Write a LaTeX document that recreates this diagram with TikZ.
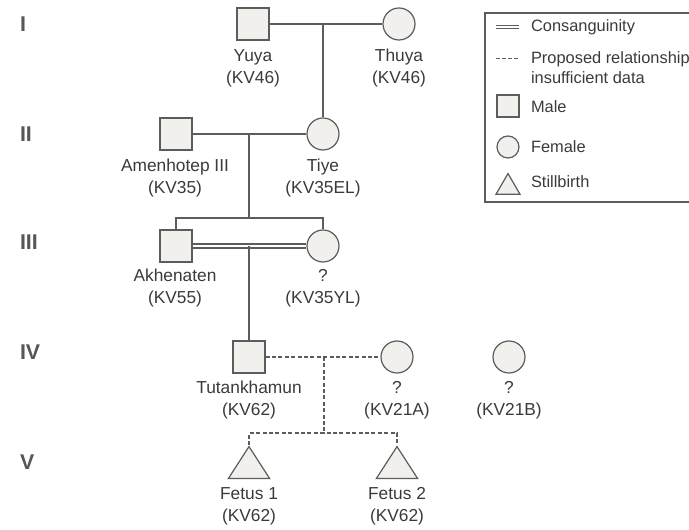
\documentclass[tikz,border=0pt]{standalone}
\usepackage{fontspec}
\setmainfont{Liberation Sans}
\usepackage{xcolor, tikz}
\usetikzlibrary{shapes.geometric,positioning}
\definecolor{pedline}{HTML}{5C5C5C}
\definecolor{pedfill}{HTML}{F1F0EC}
\definecolor{pedtext}{HTML}{3A3A3A}

\begin{document}
\begin{tikzpicture}[x=0.75pt,y=-0.75pt,line width=0.9pt,
	male/.style={draw=pedline,fill=pedfill,rectangle,minimum size=24pt,inner sep=0pt},
	female/.style={draw=pedline,fill=pedfill,circle,minimum size=24pt,inner sep=0pt},
	stillbirth/.style={draw=pedline,fill=pedfill,isosceles triangle,isosceles triangle stretches,
		shape border rotate=90,minimum width=31pt,minimum height=24pt,inner sep=0pt},
	pname/.style={align=center,text=pedtext,font=\fontsize{13}{16.5}\selectfont},
	gen/.style={anchor=west,text=pedtext!85,font=\fontsize{16}{16}\selectfont\bfseries},
	legtext/.style={anchor=west,align=left,text=pedtext,font=\fontsize{12.3}{15}\selectfont},
	rel/.style={draw=pedline},
	prop/.style={draw=pedline,dash pattern=on 3pt off 1.8pt},
	cons/.style={draw=pedline,double=white,double distance=2pt}]
	\clip (0,0) rectangle (689,530);

	%generations
	\node[gen] (genI) at (15,24) {I};
	\node[gen] (genII) at (15,134) {II};
	\node[gen] (genIII) at (15,242) {III};
	\node[gen] (genIV) at (15,352) {IV};
	\node[gen] (genV) at (15,462) {V};

	%persons
	\node[male] (yuya) at (253,24) {};
	\node[female] (thuya) at (399,24) {};
	\node[male] (amen) at (176,134) {};
	\node[female] (tiye) at (323,134) {};
	\node[male] (akh) at (176,246) {};
	\node[female] (yl) at (323,246) {};
	\node[male] (tut) at (249,357) {};
	\node[female] (kva) at (397,357) {};
	\node[female] (kvb) at (509,357) {};
	\node[stillbirth,anchor=apex] (fet1) at (249,445) {};
	\node[stillbirth,anchor=apex] (fet2) at (397,445) {};

	%names
	\node[pname] (yuyaL) at (253,68) {Yuya\\(KV46)};
	\node[pname] (thuyaL) at (399,68) {Thuya\\(KV46)};
	\node[pname] (amenL) at (175,178) {Amenhotep III\\(KV35)};
	\node[pname] (tiyeL) at (323,178) {Tiye\\(KV35EL)};
	\node[pname] (akhL) at (175,288) {Akhenaten\\(KV55)};
	\node[pname] (ylL) at (323,288) {?\\(KV35YL)};
	\node[pname] (tutL) at (249,400) {Tutankhamun\\(KV62)};
	\node[pname] (kvaL) at (397,400) {?\\(KV21A)};
	\node[pname] (kvbL) at (509,400) {?\\(KV21B)};
	\node[pname] (fet1L) at (249,506) {Fetus 1\\(KV62)};
	\node[pname] (fet2L) at (397,506) {Fetus 2\\(KV62)};

	%matings and descent
	\coordinate (m1) at (tiye |- yuya);
	\draw[rel] (yuya) -- (thuya);
	\draw[rel] (m1) -- (tiye);

	\coordinate (m2) at (tut |- amen);
	\coordinate (s2) at (tut |- 0,218);
	\draw[rel] (amen) -- (tiye);
	\draw[rel] (m2) -- (s2);
	\draw[rel] (akh.north) |- (s2) -| (yl.north);

	\coordinate (m3) at (tut |- akh);
	\draw[cons] (akh) -- (yl);
	\draw[rel] (m3) -- (tut);

		%proposed
		\coordinate (m4) at (324,357);
		\coordinate (s4) at (324,433);
		\draw[prop] (tut) -- (kva);
		\draw[prop] (m4) -- (s4);
		\draw[prop] (fet1.apex) |- (s4) -| (fet2.apex);

	%legend
	\draw[pedline,line width=0.8pt] (700,13) -| (485,202) -- (700,202);
	\draw[cons,line width=0.7pt,double distance=1.6pt] (496,27) -- (519,27);
	\node[legtext] (keyCons) at (526,27) {Consanguinity};
	\draw[prop,line width=0.7pt,dash pattern=on 3pt off 1.6pt] (496,58) -- (520,58);
	\node[legtext] (keyProp) at (526,68) {Proposed relationship\\insufficient data};
	\node[male,minimum size=16.5pt] (keyM) at (508,106) {};
	\node[legtext] (keyMale) at (526,107) {Male};
	\node[female,minimum size=16.5pt] (keyF) at (508,147) {};
	\node[legtext] (keyFemale) at (526,147) {Female};
	\node[stillbirth,anchor=apex,minimum width=18pt,minimum height=15.5pt] (keyS) at (508,172) {};
	\node[legtext] (keyStill) at (526,182) {Stillbirth};
\end{tikzpicture}
\end{document}
